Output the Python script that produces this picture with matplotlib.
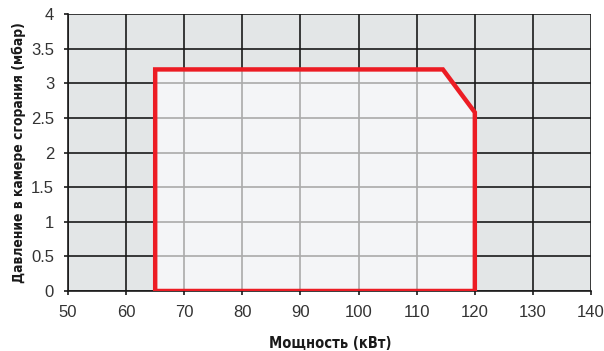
import matplotlib
matplotlib.use("Agg")
import matplotlib.pyplot as plt
from matplotlib.patches import Polygon

# рабочее поле горелки
power = [65, 65, 114.5, 120, 120]
pressure = [0, 3.2, 3.2, 2.58, 0]

x_ticks = [50, 60, 70, 80, 90, 100, 110, 120, 130, 140]
y_ticks = [0, 0.5, 1, 1.5, 2, 2.5, 3, 3.5, 4]
y_labels = ["0", "0.5", "1", "1.5", "2", "2.5", "3", "3.5", "4"]

plt.rcParams['font.family'] = ['Liberation Sans', 'DejaVu Sans']

fig = plt.figure(figsize=(6.04, 3.51), dpi=100)
ax = fig.add_axes([0.1126, 0.171, 0.866, 0.789])
ax.set_facecolor("#e3e6e7")
ax.set_xlim(50, 140)
ax.set_ylim(0, 4)

# black grid outside
for x in x_ticks:
    ax.axvline(x, color="#1a1a1a", lw=1.2, zorder=1)
for y in y_ticks:
    ax.axhline(y, color="#1a1a1a", lw=1.2, zorder=1)

# light area inside the working field
pts = list(zip(power, pressure))
fill = Polygon(pts, closed=True, facecolor="#f4f5f7", edgecolor="none", zorder=2)
ax.add_patch(fill)

clip = Polygon(pts, closed=True, transform=ax.transData)
for x in x_ticks:
    l = ax.axvline(x, color="#aaaaaa", lw=1.2, zorder=3)
    l.set_clip_path(clip)
for y in y_ticks:
    l = ax.axhline(y, color="#aaaaaa", lw=1.2, zorder=3)
    l.set_clip_path(clip)

ax.add_patch(Polygon(pts, closed=True, facecolor="none", edgecolor="#ec1c24",
                     lw=3.2, joinstyle="miter", zorder=4))

ax.set_xticks(x_ticks)
ax.set_yticks(y_ticks)
ax.set_yticklabels(y_labels)
ax.tick_params(axis="both", labelsize=12, colors="#1a1a1a", length=3, width=1.2,
               labelcolor="#333333")
ax.tick_params(axis="x", pad=7)
ax.tick_params(axis="y", pad=7)
for s in ax.spines.values():
    s.set_color("#1a1a1a")
    s.set_linewidth(1.2)
ax.spines["top"].set_visible(False)
ax.spines["right"].set_visible(False)

fig.text(330 / 604, 1 - 343 / 351, "Мощность (кВт)", fontsize=10.5, fontweight="bold",
         family=["DejaVu Sans"], stretch="condensed", ha="center", va="center",
         color="#1a1a1a")
fig.text(19 / 604, 1 - 153 / 351, "Давление в камере сгорания (мбар)", fontsize=10,
         fontweight="bold", family=["DejaVu Sans"], stretch="condensed",
         rotation=90, ha="center", va="center", color="#1a1a1a")

fig.savefig("out.png", dpi=100)
